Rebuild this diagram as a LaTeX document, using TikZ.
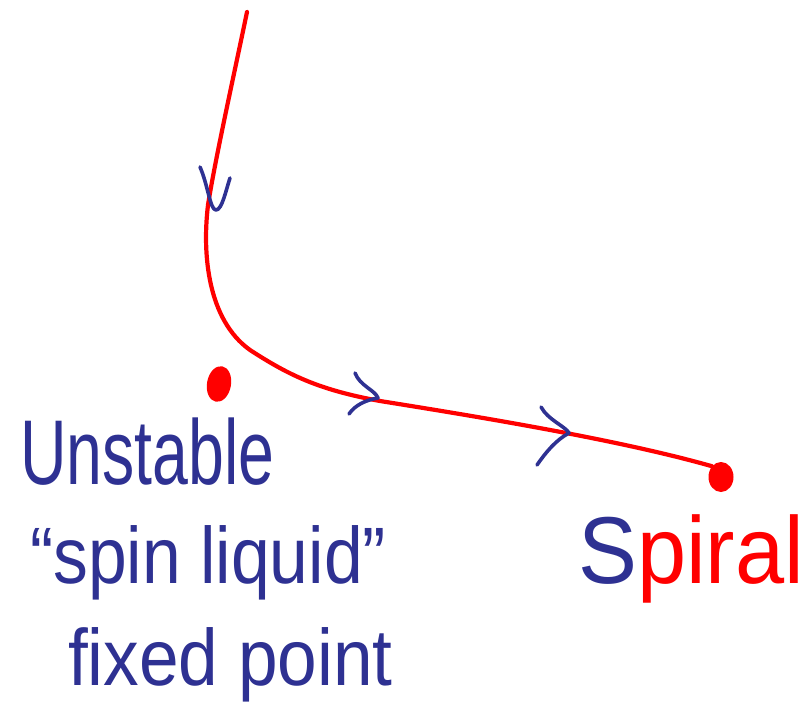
\documentclass[tikz,border=0pt]{standalone}
\usepackage{fontspec}
\setmainfont{Liberation Sans}
\usetikzlibrary{shapes.geometric}
\definecolor{ink}{RGB}{46,49,146}
\definecolor{pen}{RGB}{255,0,0}
\tikzset{
  redline/.style={draw=pen,line width=4.2pt,line cap=round,line join=round},
  blueline/.style={draw=ink,line width=3.6pt,line cap=round,line join=round},
  dot/.style={ellipse,fill=pen,inner sep=0pt},
  hand/.style={anchor=base west,inner sep=0pt,text=ink}
}
\begin{document}
\begin{tikzpicture}[x=1pt,y=-1pt]
\useasboundingbox (0,0) rectangle (803,711);
% fixed points
\node[dot,minimum width=24pt,minimum height=36pt,rotate=-10] (uf) at (219,384) {};
\node[dot,minimum width=25pt,minimum height=30pt] (sp) at (721,477) {};
\coordinate (top) at (247,12);
% flow line
\draw[redline] (top) .. controls (235,70) and (215,160) .. (208,205)
  .. controls (202,255) and (208,320) .. (250,350)
  .. controls (290,376) and (320,390) .. (380,401)
  .. controls (480,417) and (620,440) .. (sp.north west);
% arrow marks
\draw[blueline] (200,167) .. controls (208,185) and (210,210) .. (216,210) .. controls (222,210) and (226,190) .. (230,178);
\draw[blueline] (355,373) .. controls (360,386) and (375,390) .. (378,398) .. controls (366,400) and (355,405) .. (349,414);
\draw[blueline] (541,407) .. controls (548,420) and (565,426) .. (569,433) .. controls (556,440) and (546,452) .. (537,465);
% labels
\node[hand] (l1) at (20,484) {\fontsize{92}{92}\selectfont\scalebox{0.7}[1]{Unstable}};
\node[hand] (l2) at (30,583) {\fontsize{80}{80}\selectfont\scalebox{0.87}[1]{“spin liquid”}};
\node[hand] (l3) at (68,685) {\fontsize{80}{80}\selectfont\scalebox{0.89}[1]{fixed point}};
\node[hand] (l4) at (578,583) {\fontsize{95}{95}\selectfont\scalebox{0.93}[1]{S\textcolor{pen}{piral}}};
\end{tikzpicture}
\end{document}
